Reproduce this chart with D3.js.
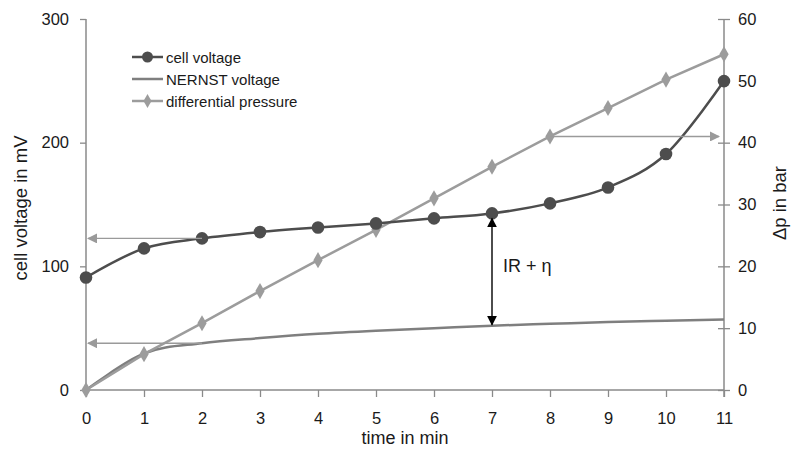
<!DOCTYPE html>
<html><head><meta charset="utf-8">
<script src="https://cdn.jsdelivr.net/npm/d3@7"></script>
<style>body{margin:0;background:#fff;}svg{display:block;font-family:"Liberation Sans",Arial,sans-serif;}</style>
</head><body>
<svg id="c" width="792" height="449"></svg>
<script>
const times = [0,1,2,3,4,5,6,7,8,9,10,11];
const cellVoltage = [91,114.5,122.6,127.7,131.4,134.7,138.8,142.8,150.9,163.8,190.8,249.8];
const nernstVoltage = [0,29.5,37.8,42,45.5,48,50,52,53.5,55,56,57];
const diffPressure = [0,5.8,10.8,16.0,21.0,25.9,31.0,36.1,41.0,45.6,50.2,54.3];
const leftTicks = [0,100,200,300];
const rightTicks = [0,10,20,30,40,50,60];
const seriesNames = ["cell voltage","NERNST voltage","differential pressure"];

const svg = d3.select("#c");
const x = d3.scaleLinear().domain([0,11]).range([86,724]);
const yL = d3.scaleLinear().domain([0,300]).range([390,19]);
const yR = d3.scaleLinear().domain([0,60]).range([390,19]);

const axisCol = "#8a8a8a";
const cCell = "#4d4d4d", cNern = "#7f7f7f", cDiff = "#9c9c9c";
const txt = "#1a1a1a";

// axes
const gx = svg.append("g").attr("transform","translate(0,390)")
  .call(d3.axisBottom(x).tickValues(times).tickSize(7).tickPadding(15).tickFormat(d3.format("d")));
const gl = svg.append("g").attr("transform","translate(86,0)")
  .call(d3.axisLeft(yL).tickValues(leftTicks).tickSize(6).tickPadding(11));
const gr = svg.append("g").attr("transform","translate(724,0)")
  .call(d3.axisRight(yR).tickValues(rightTicks).tickSize(6).tickPadding(8));
gr.selectAll(".tick line").attr("x1",-6);
[gx,gl,gr].forEach(g=>{
  g.select(".domain").attr("stroke",axisCol).attr("stroke-width",1.5);
  g.selectAll(".tick line").attr("stroke",axisCol).attr("stroke-width",1.3);
  g.selectAll(".tick text").attr("font-size",16.5).attr("fill",txt).attr("font-family","Liberation Sans, Arial, sans-serif");
});
gx.select(".domain").attr("d","M86,0H724");
gl.select(".domain").attr("d","M0,19V390");
gr.select(".domain").attr("d","M0,19V397");

// axis titles
svg.append("text").attr("transform","translate(27,208) rotate(-90)").attr("text-anchor","middle")
  .attr("font-size",18.5).attr("fill",txt).text("cell voltage in mV");
svg.append("text").attr("transform","translate(786,203) rotate(-90)").attr("text-anchor","middle")
  .attr("font-size",18.5).attr("fill",txt).text("\u0394p in bar");
svg.append("text").attr("x",405).attr("y",444).attr("text-anchor","middle")
  .attr("font-size",18).attr("fill",txt).text("time in min");

// arrow markers
const defs = svg.append("defs");
function mk(id,col){
  defs.append("marker").attr("id",id).attr("viewBox","0 0 10 10").attr("refX",9).attr("refY",5)
    .attr("markerWidth",10).attr("markerHeight",10).attr("markerUnits","userSpaceOnUse").attr("orient","auto-start-reverse")
    .append("path").attr("d","M0,0L10,5L0,10Z").attr("fill",col);
}
mk("ag","#9a9a9a"); mk("ab","#000");

// lines
const lineL = d3.line().x((d,i)=>x(times[i])).y(d=>yL(d)).curve(d3.curveCardinal.tension(0));
const lineR = d3.line().x((d,i)=>x(times[i])).y(d=>yR(d));

svg.append("path").attr("d",lineL(nernstVoltage)).attr("fill","none").attr("stroke",cNern).attr("stroke-width",2.5);
svg.append("path").attr("d",lineR(diffPressure)).attr("fill","none").attr("stroke",cDiff).attr("stroke-width",2.5);
svg.append("path").attr("d",lineL(cellVoltage)).attr("fill","none").attr("stroke",cCell).attr("stroke-width",2.5);

const diamond = d3.symbol().type(d3.symbolDiamond).size(75);
svg.append("g").selectAll("path").data(diffPressure).join("path")
  .attr("transform",(d,i)=>`translate(${x(times[i])},${yR(d)})`).attr("d",diamond).attr("fill",cDiff);
svg.append("g").selectAll("circle").data(cellVoltage).join("circle")
  .attr("cx",(d,i)=>x(times[i])).attr("cy",d=>yL(d)).attr("r",6.3).attr("fill",cCell);

// annotation arrows
svg.append("line").attr("x1",x(2)).attr("x2",x(0)+2).attr("y1",yL(cellVoltage[2])).attr("y2",yL(cellVoltage[2]))
  .attr("stroke","#9a9a9a").attr("stroke-width",1.4).attr("marker-end","url(#ag)");
svg.append("line").attr("x1",x(2)).attr("x2",x(0)+2).attr("y1",yL(nernstVoltage[2])).attr("y2",yL(nernstVoltage[2]))
  .attr("stroke","#9a9a9a").attr("stroke-width",1.4).attr("marker-end","url(#ag)");
svg.append("line").attr("x1",x(8)).attr("x2",x(11)-5).attr("y1",yR(diffPressure[8])).attr("y2",yR(diffPressure[8]))
  .attr("stroke","#9a9a9a").attr("stroke-width",1.4).attr("marker-end","url(#ag)");
svg.append("line").attr("x1",x(7)).attr("x2",x(7)).attr("y1",yL(cellVoltage[7])+5).attr("y2",yL(nernstVoltage[7])-1)
  .attr("stroke","#000").attr("stroke-width",1.4).attr("marker-start","url(#ab)").attr("marker-end","url(#ab)");
svg.append("text").attr("x",x(7)+11).attr("y",272).attr("font-size",18).attr("fill",txt).text("IR + \u03b7");

// legend
const leg = svg.append("g");
const ly = [57,79,101], lcol=[cCell,cNern,cDiff];
seriesNames.forEach((n,i)=>{
  leg.append("line").attr("x1",132).attr("x2",163).attr("y1",ly[i]).attr("y2",ly[i]).attr("stroke",lcol[i]).attr("stroke-width",2.5);
  if(i===0) leg.append("circle").attr("cx",147.5).attr("cy",ly[i]).attr("r",5.5).attr("fill",cCell);
  if(i===2) leg.append("path").attr("transform",`translate(147.5,${ly[i]})`).attr("d",d3.symbol().type(d3.symbolDiamond).size(55)).attr("fill",cDiff);
  leg.append("text").attr("x",166).attr("y",ly[i]+5.5).attr("font-size",15).attr("fill",txt).text(n);
});
</script>
</body></html>
